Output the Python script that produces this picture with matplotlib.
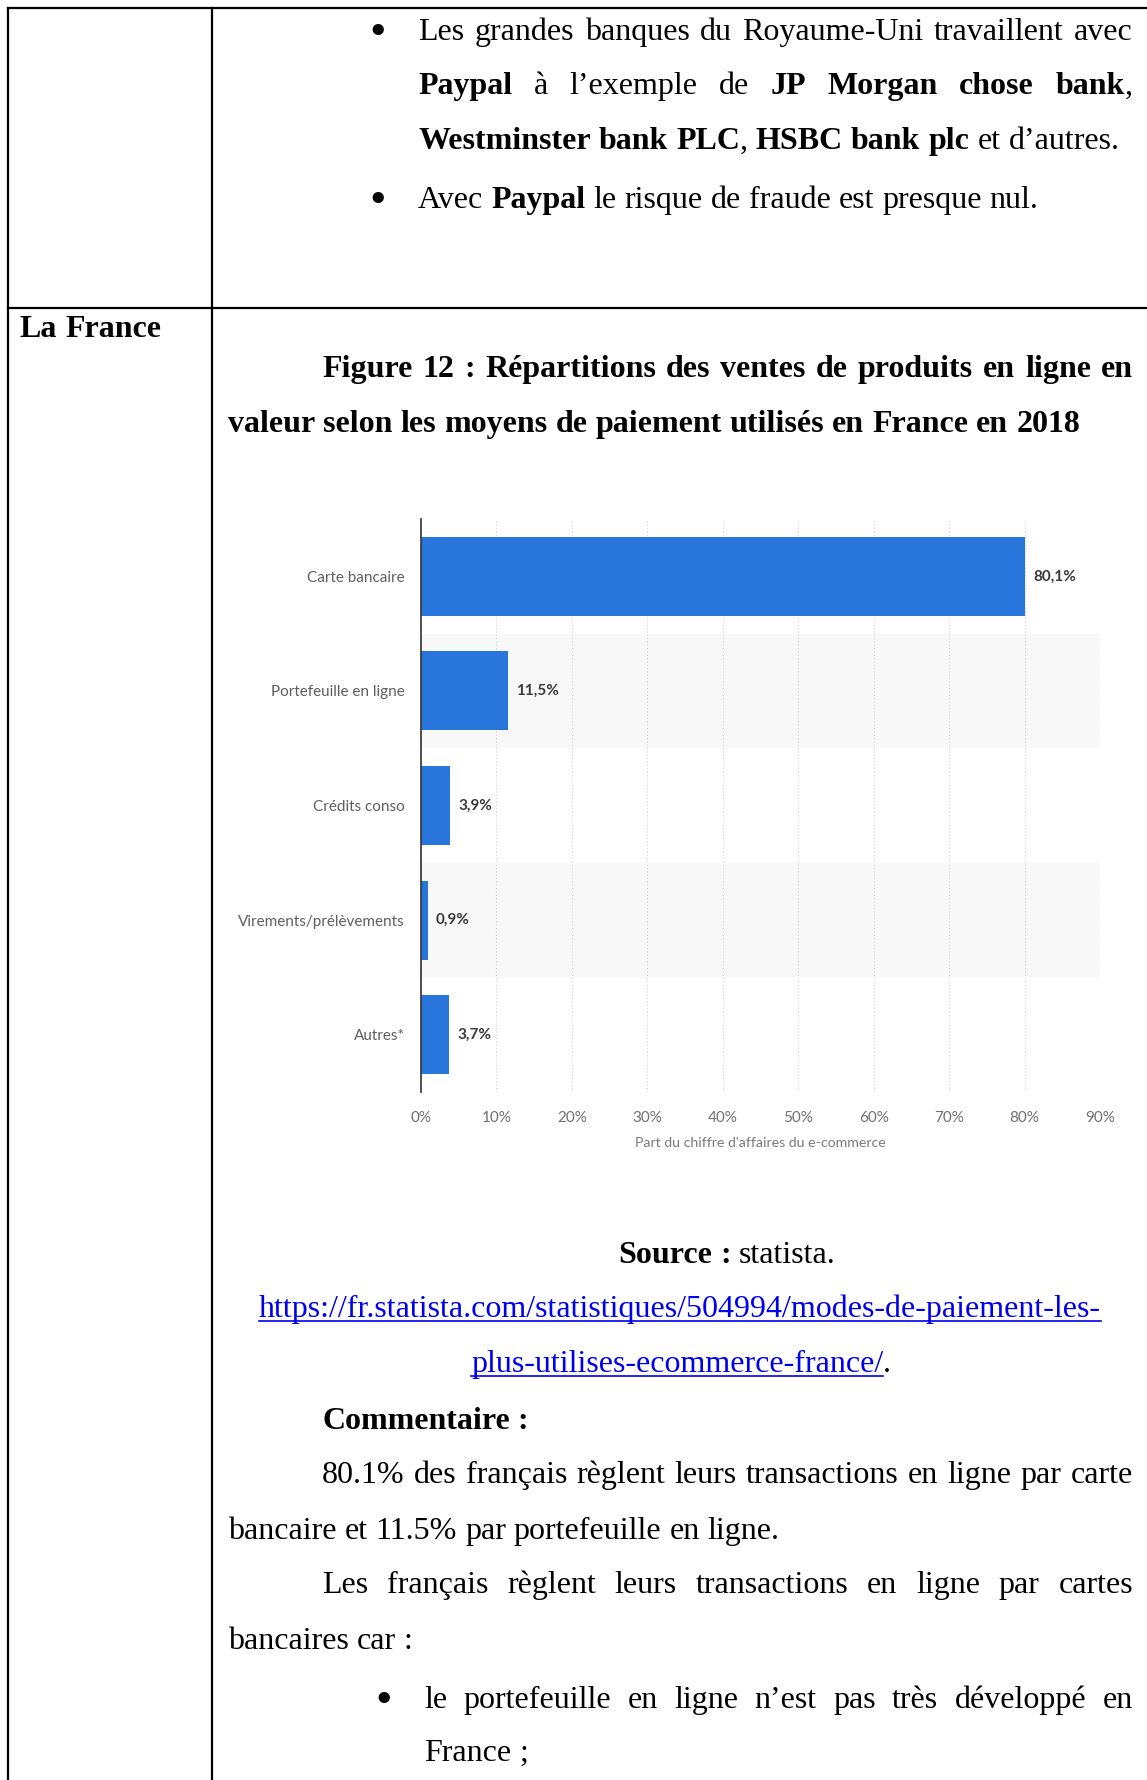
import matplotlib
matplotlib.use('Agg')
import matplotlib.pyplot as plt
from matplotlib.lines import Line2D

# Bar chart data: share of French e-commerce revenue by payment method (2018)
categories = ['Carte bancaire', 'Portefeuille en ligne', 'Crédits conso',
              'Virements/prélèvements', 'Autres*']
shares = [80.1, 11.5, 3.9, 0.9, 3.7]
x_ticks = [0, 10, 20, 30, 40, 50, 60, 70, 80, 90]
x_label = "Part du chiffre d'affaires du e-commerce"

W, H = 1147, 1780
fig = plt.figure(figsize=(W / 100, H / 100), dpi=100)
renderer = fig.canvas.get_renderer()

SERIF = 'Liberation Serif'
SANS = 'Lato'
BODY = 23.0  # document body size in points


def fx(x):
    return x / W


def fy(y):
    return 1 - y / H


def text_width(s, size, bold=False):
    t = fig.text(0, 0, s, fontsize=size, family=SERIF,
                 weight='bold' if bold else 'normal')
    w = t.get_window_extent(renderer).width
    t.remove()
    return w


def line(parts, x0, base, size=BODY, x1=None, color='black', center=False):
    """Lay out one line of mixed regular/bold words; justify if x1 is given."""
    words, cur = [], []
    for txt, bold in parts:
        for i, chunk in enumerate(txt.split(' ')):
            if i > 0 and cur:
                words.append(cur)
                cur = []
            if chunk:
                cur.append((chunk, bold))
    if cur:
        words.append(cur)
    widths = [[text_width(p, size, b) for p, b in w] for w in words]
    total = sum(sum(ws) for ws in widths)
    space = text_width('x x', size) - text_width('xx', size)
    if x1 is not None and len(words) > 1:
        gap = (x1 - x0 - total) / (len(words) - 1)
    else:
        gap = space
    if center:
        x0 = x0 - (total + gap * (len(words) - 1)) / 2
    x = x0
    for w, ws in zip(words, widths):
        for (p, b), pw in zip(w, ws):
            fig.text(fx(x), fy(base), p, fontsize=size, family=SERIF,
                     weight='bold' if b else 'normal', color=color,
                     va='baseline', ha='left')
            x += pw
        x += gap
    return x0, x - gap


def bullet(x, base):
    fig.text(fx(x), fy(base - 11), '•', fontsize=34, family=SERIF,
             va='center_baseline', ha='center')


# table grid
grid_kw = dict(color='black', lw=1.6, transform=fig.transFigure)
fig.add_artist(Line2D([fx(8), 1], [fy(8), fy(8)], **grid_kw))
fig.add_artist(Line2D([fx(8), 1], [fy(308), fy(308)], **grid_kw))
fig.add_artist(Line2D([fx(8), fx(8)], [fy(8), 0], **grid_kw))
fig.add_artist(Line2D([fx(212), fx(212)], [fy(8), 0], **grid_kw))

# upper cell (end of the previous country)
L, R = 418, 1133
bullet(378, 40)
line([('Les grandes banques du Royaume-Uni travaillent avec', False)], L, 40, x1=R)
line([('Paypal', True), (' à l’exemple de ', False), ('JP Morgan chose bank', True),
      (',', False)], L, 94, x1=R)
line([('Westminster bank PLC', True), (', ', False),
      ('HSBC bank plc', True), (' et d’autres.', False)], L, 149)
bullet(378, 208)
line([('Avec ', False), ('Paypal', True), (' le risque de fraude est presque nul.', False)],
     L, 208)

# France row
line([('La France', True)], 20, 337)
line([('Figure 12 : Répartitions des ventes de produits en ligne en', True)],
     322, 377, x1=R)
line([('valeur selon les moyens de paiement utilisés en France en 2018', True)],
     228, 432)

# chart
ax = fig.add_axes([fx(421), fy(1092), (1100 - 421) / W, (1092 - 519) / H])
pos = list(range(len(categories)))
for i in pos[1::2]:
    ax.axhspan(i - 0.5, i + 0.5, color='#f8f8f8', lw=0, zorder=0)
ax.barh(pos, shares, height=0.69, color='#2875dc', zorder=3)
for i, v in zip(pos, shares):
    ax.annotate(f'{v:.1f}%'.replace('.', ','), (v, i), xytext=(6, 0),
                textcoords='offset points', va='center', ha='left',
                fontsize=11, fontweight='bold', color='#3a3a3a', family=SANS)
ax.set_xlim(0, 90)
ax.set_ylim(len(categories) - 0.5, -0.5)
ax.set_yticks(pos)
ax.set_yticklabels(categories, family=SANS, fontsize=11, color='#5f5f5f')
ax.set_xticks(x_ticks)
ax.set_xticklabels([f'{t}%' for t in x_ticks], family=SANS, fontsize=11,
                   color='#707070')
ax.tick_params(axis='both', length=0)
ax.tick_params(axis='x', pad=14)
ax.tick_params(axis='y', pad=12)
ax.set_xlabel(x_label, family=SANS, fontsize=10.2, color='#7a7a7a', labelpad=8)
ax.grid(axis='x', color='#d0d0d0', lw=0.8, linestyle=(0, (1, 2)), zorder=1)
for s in ('top', 'right', 'bottom'):
    ax.spines[s].set_visible(False)
ax.spines['left'].set_color('#333333')
ax.spines['left'].set_linewidth(1.2)
ax.spines['left'].set_zorder(4)
ax.set_facecolor('none')

# source and link
line([('Source :', True), (' statista.', False)], 727, 1263, center=True)
link = '#0000ee'
a, b = line([('https://fr.statista.com/statistiques/504994/modes-de-paiement-les-', False)],
            259, 1317, color=link)
fig.add_artist(Line2D([fx(a), fx(b)], [fy(1321), fy(1321)], color=link, lw=1.2,
                      transform=fig.transFigure))
a, b = line([('plus-utilises-ecommerce-france/', False)], 471, 1372, color=link)
fig.add_artist(Line2D([fx(a), fx(b)], [fy(1376), fy(1376)], color=link, lw=1.2,
                      transform=fig.transFigure))
fig.text(fx(b), fy(1372), '.', fontsize=BODY, family=SERIF, va='baseline')

# commentary
line([('Commentaire :', True)], 322, 1429)
line([('80.1%  des français règlent leurs transactions en ligne par carte', False)],
     322, 1483, x1=R)
line([('bancaire et 11.5% par portefeuille en ligne.', False)], 228, 1539)
line([('Les français règlent leurs transactions en ligne par cartes', False)],
     322, 1593, x1=R)
line([('bancaires car :', False)], 228, 1649)
bullet(384, 1708)
line([('le portefeuille en ligne n’est pas très développé en', False)],
     424, 1708, x1=R)
line([('France ;', False)], 424, 1761)

fig.savefig('out.png', dpi=100)
